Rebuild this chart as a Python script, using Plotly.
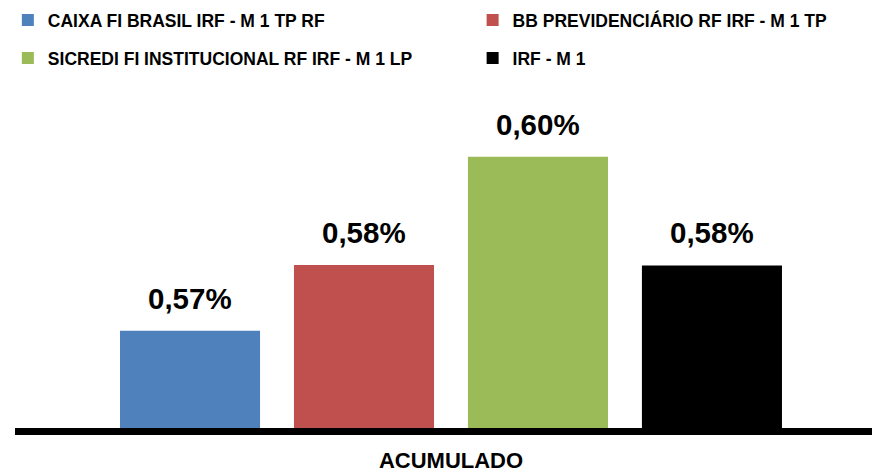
import plotly.graph_objects as go

series = ["CAIXA FI BRASIL IRF - M 1 TP RF", "BB PREVIDENCIÁRIO RF IRF - M 1 TP",
          "SICREDI FI INSTITUCIONAL RF IRF - M 1 LP", "IRF - M 1"]
values = [0.5668, 0.5782, 0.5969, 0.5781]
labels = ["0,57%", "0,58%", "0,60%", "0,58%"]
colors = ["#4F81BD", "#C0504D", "#9BBB59", "#000000"]
category = "ACUMULADO"

FONT = "Liberation Sans"
legend_ids = ["legend", "legend2", "legend3", "legend4"]
# legend placement (container fractions): two columns, two rows
legend_x = [0.009, 0.542, 0.009, 0.542]
legend_y = [1 - 20 / 472, 1 - 20 / 472, 1 - 58 / 472, 1 - 58 / 472]

fig = go.Figure()
positions = list(range(len(series)))
for i, (name, v, c, lg) in enumerate(zip(series, values, colors, legend_ids)):
    fig.add_trace(go.Bar(x=[positions[i]], y=[v], name=name, marker_color=c,
                         marker_line_width=0, width=0.805, legend=lg,
                         hoverinfo="skip"))
    fig.add_annotation(x=positions[i], y=v, text="<b>%s</b>" % labels[i],
                       showarrow=False, yanchor="bottom", yshift=14,
                       font=dict(family=FONT, size=29.5, color="#000000"))

legend_layout = {}
for lg, lx, ly in zip(legend_ids, legend_x, legend_y):
    legend_layout[lg] = dict(orientation="h", xref="container", yref="container",
                             x=lx, y=ly, xanchor="left", yanchor="middle",
                             font=dict(family=FONT, size=17.5, color="#000000", weight="bold"),
                             bgcolor="rgba(0,0,0,0)")

center = (positions[0] + positions[-1]) / 2
fig.update_layout(
    width=872, height=472,
    margin=dict(l=15, r=0, t=81, b=44, autoexpand=False),
    plot_bgcolor="white", paper_bgcolor="white",
    showlegend=True,
    xaxis=dict(range=[-1.006, 3.92], tickvals=[center], ticktext=["<b>%s</b>" % category],
               showgrid=False, zeroline=False, showline=True, linecolor="#000000",
               linewidth=7, ticks="", ticklabelstandoff=7,
               tickfont=dict(family=FONT, size=22, color="#000000"),
               fixedrange=True),
    yaxis=dict(range=[0.55, 0.61], visible=False, showgrid=False, zeroline=False,
               fixedrange=True),
    **legend_layout,
)
fig.write_html("out.html", config={"displayModeBar": False},
               post_script="document.body.style.margin='0';document.body.style.overflow='hidden';")
